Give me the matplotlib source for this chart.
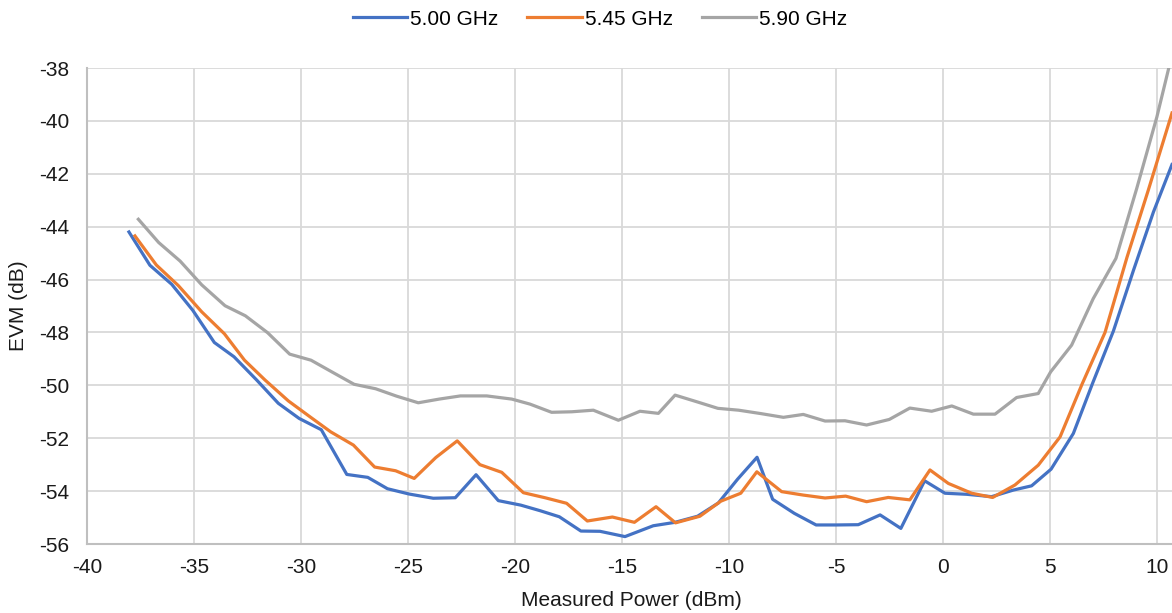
import matplotlib.pyplot as plt

plt.rcParams['font.family'] = ['Liberation Sans', 'DejaVu Sans']
plt.rcParams['axes.unicode_minus'] = False

x_500 = [-38.04, -37.06, -36.04, -35.06, -34.05, -33.13, -32.07, -31.06, -30.09, -29.05,
         -27.86, -26.88, -25.96, -24.95, -23.82, -22.79, -21.82, -20.78, -19.73, -18.83,
         -17.93, -16.92, -16.03, -14.86, -13.54, -12.52, -11.47, -10.5, -9.6, -8.69,
         -7.96, -6.95, -5.93, -4.97, -3.96, -2.94, -1.97, -0.86, 0.09, 1.1,
         2.27, 3.29, 4.14, 5.05, 6.09, 7.0, 7.96, 8.9, 9.83, 10.7]
evm_500 = [-44.2, -45.46, -46.18, -47.16, -48.38, -48.92, -49.8, -50.68, -51.25, -51.68,
           -53.37, -53.48, -53.91, -54.11, -54.27, -54.25, -53.38, -54.36, -54.53, -54.74,
           -54.97, -55.51, -55.52, -55.72, -55.31, -55.18, -54.95, -54.45, -53.55, -52.72,
           -54.31, -54.84, -55.28, -55.28, -55.27, -54.9, -55.41, -53.61, -54.08, -54.12,
           -54.21, -53.96, -53.8, -53.17, -51.82, -49.9, -47.95, -45.65, -43.45, -41.65]

x_545 = [-37.76, -36.76, -35.73, -34.64, -33.58, -32.64, -31.68, -30.59, -29.58, -28.61,
         -27.55, -26.56, -25.58, -24.71, -23.7, -22.7, -21.64, -20.62, -19.61, -18.6,
         -17.59, -16.62, -15.45, -14.42, -13.41, -12.5, -11.36, -10.38, -9.45, -8.7,
         -7.54, -6.53, -5.51, -4.55, -3.57, -2.56, -1.55, -0.61, 0.25, 1.34,
         2.32, 3.36, 4.45, 5.47, 6.5, 7.57, 8.6, 9.6, 10.7]
evm_545 = [-44.35, -45.45, -46.23, -47.22, -48.05, -49.05, -49.8, -50.59, -51.19, -51.76,
           -52.26, -53.09, -53.23, -53.52, -52.73, -52.1, -53.0, -53.29, -54.06, -54.25,
           -54.46, -55.13, -54.98, -55.18, -54.59, -55.2, -54.95, -54.38, -54.08, -53.27,
           -54.02, -54.15, -54.26, -54.19, -54.4, -54.24, -54.33, -53.2, -53.71, -54.08,
           -54.24, -53.77, -53.02, -51.95, -49.95, -48.0, -45.15, -42.6, -39.7]

x_590 = [-37.6, -36.65, -35.65, -34.64, -33.55, -32.6, -31.56, -30.53, -29.53, -28.54,
         -27.52, -26.51, -25.53, -24.52, -23.54, -22.55, -21.32, -20.15, -19.3, -18.29,
         -17.35, -16.34, -15.17, -14.16, -13.3, -12.52, -11.51, -10.52, -9.55, -8.5,
         -7.46, -6.53, -5.51, -4.58, -3.57, -2.51, -1.55, -0.53, 0.41, 1.42,
         2.43, 3.44, 4.45, 5.03, 6.01, 7.02, 8.08, 9.05, 9.99, 10.7]
evm_590 = [-43.72, -44.6, -45.3, -46.2, -46.99, -47.37, -48.01, -48.82, -49.05, -49.5,
           -49.96, -50.13, -50.41, -50.66, -50.52, -50.4, -50.4, -50.52, -50.71, -51.02,
           -51.0, -50.94, -51.32, -50.98, -51.06, -50.37, -50.62, -50.87, -50.94, -51.07,
           -51.21, -51.1, -51.35, -51.34, -51.5, -51.29, -50.86, -50.98, -50.78, -51.09,
           -51.09, -50.46, -50.31, -49.49, -48.48, -46.72, -45.2, -42.56, -39.86, -37.5]

x_ticks = [-40, -35, -30, -25, -20, -15, -10, -5, 0, 5, 10]
y_ticks = [-56, -54, -52, -50, -48, -46, -44, -42, -40, -38]

fig = plt.figure(figsize=(11.72, 6.13), dpi=100)
ax = fig.add_axes([87 / 1172, 1 - 544 / 613, 1 - 87 / 1172, 476 / 613])

ax.plot(x_500, evm_500, color='#4472C4', lw=2.3, label='5.00 GHz')
ax.plot(x_545, evm_545, color='#ED7D31', lw=2.3, label='5.45 GHz')
ax.plot(x_590, evm_590, color='#A5A5A5', lw=2.3, label='5.90 GHz')

ax.set_xlim(-40, 10.7)
ax.set_ylim(-56, -38)
ax.set_xticks(x_ticks)
ax.set_yticks(y_ticks)
ax.grid(True, color='#d9d9d9', lw=1.3)
ax.set_axisbelow(True)
for s in ['top', 'right']:
    ax.spines[s].set_visible(False)
for s in ['left', 'bottom']:
    ax.spines[s].set_color('#bfbfbf')
    ax.spines[s].set_linewidth(1.5)
ax.tick_params(axis='x', length=0, pad=10, labelsize=15, labelcolor='#1a1a1a')
ax.tick_params(axis='y', length=0, pad=13, labelsize=15, labelcolor='#1a1a1a')

ax.set_xlabel('Measured Power (dBm)', fontsize=15, color='#1a1a1a')
ax.set_ylabel('EVM (dB)', fontsize=15, color='#1a1a1a')
ax.xaxis.set_label_coords(0.502, -0.098)
ax.yaxis.set_label_coords(-0.054, 0.5)

fig.legend(loc='center', bbox_to_anchor=(0.512, 0.969), ncol=3, frameon=False,
           fontsize=15, handlelength=2.6, handletextpad=0.15, columnspacing=1.4)

plt.savefig('out.png', dpi=100)
